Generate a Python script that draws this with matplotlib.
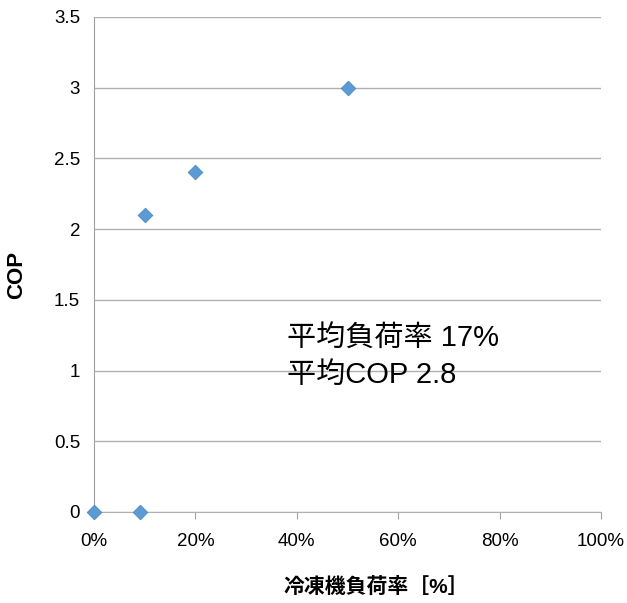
import matplotlib
matplotlib.use('Agg')
import matplotlib.pyplot as plt
from matplotlib.ticker import FuncFormatter

plt.rcParams['font.family'] = ['Liberation Sans', 'Noto Sans CJK JP', 'DejaVu Sans']

load_rate = [0, 9, 10, 20, 50]      # %
cop = [0, 0, 2.1, 2.4, 3.0]
note_lines = ['平均負荷率 17%', '平均COP 2.8']

fig = plt.figure(figsize=(6.27, 6.03), dpi=100)
ax = fig.add_axes([0.15, 0.151, 0.8085, 0.821])

ax.scatter(load_rate, cop, marker='D', s=55, color='#5B9BD5',
           edgecolors='#4A89C8', linewidths=0.6, zorder=3, clip_on=False)

ax.set_xlim(0, 100)
ax.set_ylim(0, 3.5)
ax.set_xticks(range(0, 101, 20))
ax.set_yticks([i * 0.5 for i in range(8)])
ax.xaxis.set_major_formatter(FuncFormatter(lambda v, p: f'{int(v)}%'))
ax.yaxis.set_major_formatter(FuncFormatter(lambda v, p: f'{v:g}'))

ax.grid(axis='y', color='#b0b0b0', linewidth=1)
ax.set_axisbelow(True)
for s in ['top', 'right']:
    ax.spines[s].set_visible(False)
ax.spines['left'].set_color('#a0a0a0')
ax.spines['bottom'].set_color('#b0b0b0')
ax.tick_params(axis='x', length=5, color='#a0a0a0', labelsize=13.5, pad=10)
ax.tick_params(axis='y', length=0, labelsize=13.5, pad=10)

ax.set_xlabel('冷凍機負荷率［%］', fontsize=15, fontweight='bold', va='center')
ax.xaxis.set_label_coords(0.556, -0.152)
ax.set_ylabel('COP', fontsize=16, fontweight='bold', va='center')
ax.yaxis.set_label_coords(-0.152, 0.479)

ax.text(38, 1.23, note_lines[0], fontsize=21, va='center', ha='left')
ax.text(38, 0.97, note_lines[1], fontsize=21, va='center', ha='left')

fig.savefig('out.png', dpi=100)
